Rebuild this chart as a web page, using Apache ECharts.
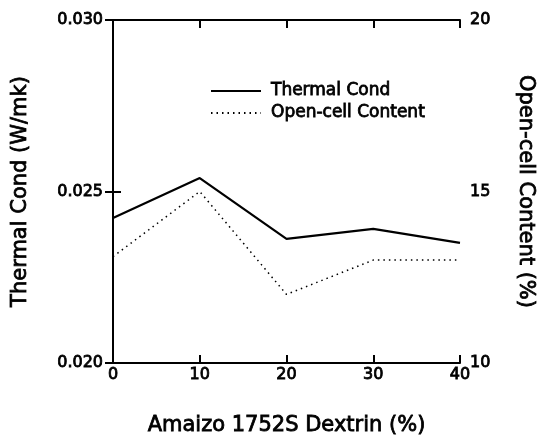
<!DOCTYPE html>
<html>
<head>
<meta charset="utf-8">
<script src="https://cdn.jsdelivr.net/npm/echarts@6/dist/echarts.min.js"></script>
<style>html,body{margin:0;padding:0;background:#fff}#c{width:539px;height:441px}</style>
</head>
<body>
<div id="c"></div>
<script>
var dextrin = [0, 10, 20, 30, 40];
var thermalCond = [0.02423, 0.02539, 0.02362, 0.02391, 0.02350];
var openCell = [13.1, 15.0, 12.0, 13.0, 13.0];
var xTicks = [0, 10, 20, 30, 40];
var leftTicks = [0.020, 0.025, 0.030];
var rightTicks = [10, 15, 20];

var FONT = 'DejaVu Sans';
function ts(size) {
  return {fontFamily: FONT, fontSize: size, color: '#000', textBorderColor: '#000', textBorderWidth: 0.8};
}
function legendAt(name, top) {
  return {
    orient: 'vertical', left: 210, top: top, itemWidth: 50, itemHeight: 12, padding: 0,
    itemStyle: {opacity: 0},
    textStyle: Object.assign(ts(17), {padding: [0, 0, 0, 5]}),
    data: [name]
  };
}
var chart = echarts.init(document.getElementById('c'));
var axisLine = {show: true, lineStyle: {color: '#000', width: 2}};
var tick = {show: true, inside: true, length: 8, lineStyle: {color: '#000', width: 2}};
chart.setOption({
  animation: false,
  backgroundColor: '#fff',
  grid: {left: 113, right: 79, top: 20, bottom: 78, outerBoundsMode: 'none', containLabel: false},
  legend: [legendAt('Thermal Cond', 82), legendAt('Open-cell Content', 104)],
  xAxis: [{
    type: 'value', min: xTicks[0], max: xTicks[xTicks.length - 1], interval: 10, position: 'bottom',
    name: 'Amaizo 1752S Dextrin (%)', nameLocation: 'middle', nameGap: 52,
    nameTextStyle: ts(21),
    axisLine: axisLine, axisTick: tick, splitLine: {show: false},
    axisLabel: Object.assign(ts(16), {margin: 4})
  }, {
    type: 'value', min: 0, max: 40, interval: 10, position: 'top',
    axisLine: axisLine, axisTick: tick, splitLine: {show: false}, axisLabel: {show: false}
  }],
  yAxis: [{
    type: 'value', min: leftTicks[0], max: leftTicks[2], interval: 0.005, position: 'left',
    name: 'Thermal Cond (W/mk)', nameLocation: 'middle', nameGap: 82, nameRotate: 90,
    nameTextStyle: ts(21),
    axisLine: axisLine, axisTick: tick, splitLine: {show: false},
    axisLabel: Object.assign(ts(16), {margin: 10,
      formatter: function (v) { return v.toFixed(3); }})
  }, {
    type: 'value', min: rightTicks[0], max: rightTicks[2], interval: 5, position: 'right',
    name: 'Open-cell Content (%)', nameLocation: 'middle', nameGap: 55, nameRotate: -90,
    nameTextStyle: ts(21),
    axisLine: axisLine, axisTick: tick, splitLine: {show: false},
    axisLabel: Object.assign(ts(16), {margin: 10})
  }],
  series: [{
    name: 'Thermal Cond', type: 'line', xAxisIndex: 0, yAxisIndex: 0, symbol: 'none',
    lineStyle: {color: '#000', width: 2.2, type: 'solid'}, itemStyle: {color: '#000'},
    data: dextrin.map(function (x, i) { return [x, thermalCond[i]]; })
  }, {
    name: 'Open-cell Content', type: 'line', xAxisIndex: 0, yAxisIndex: 1, symbol: 'none',
    lineStyle: {color: '#000', width: 1.5, type: [1.5, 4]}, itemStyle: {color: '#000'},
    data: dextrin.map(function (x, i) { return [x, openCell[i]]; })
  }]
});
</script>
</body>
</html>
